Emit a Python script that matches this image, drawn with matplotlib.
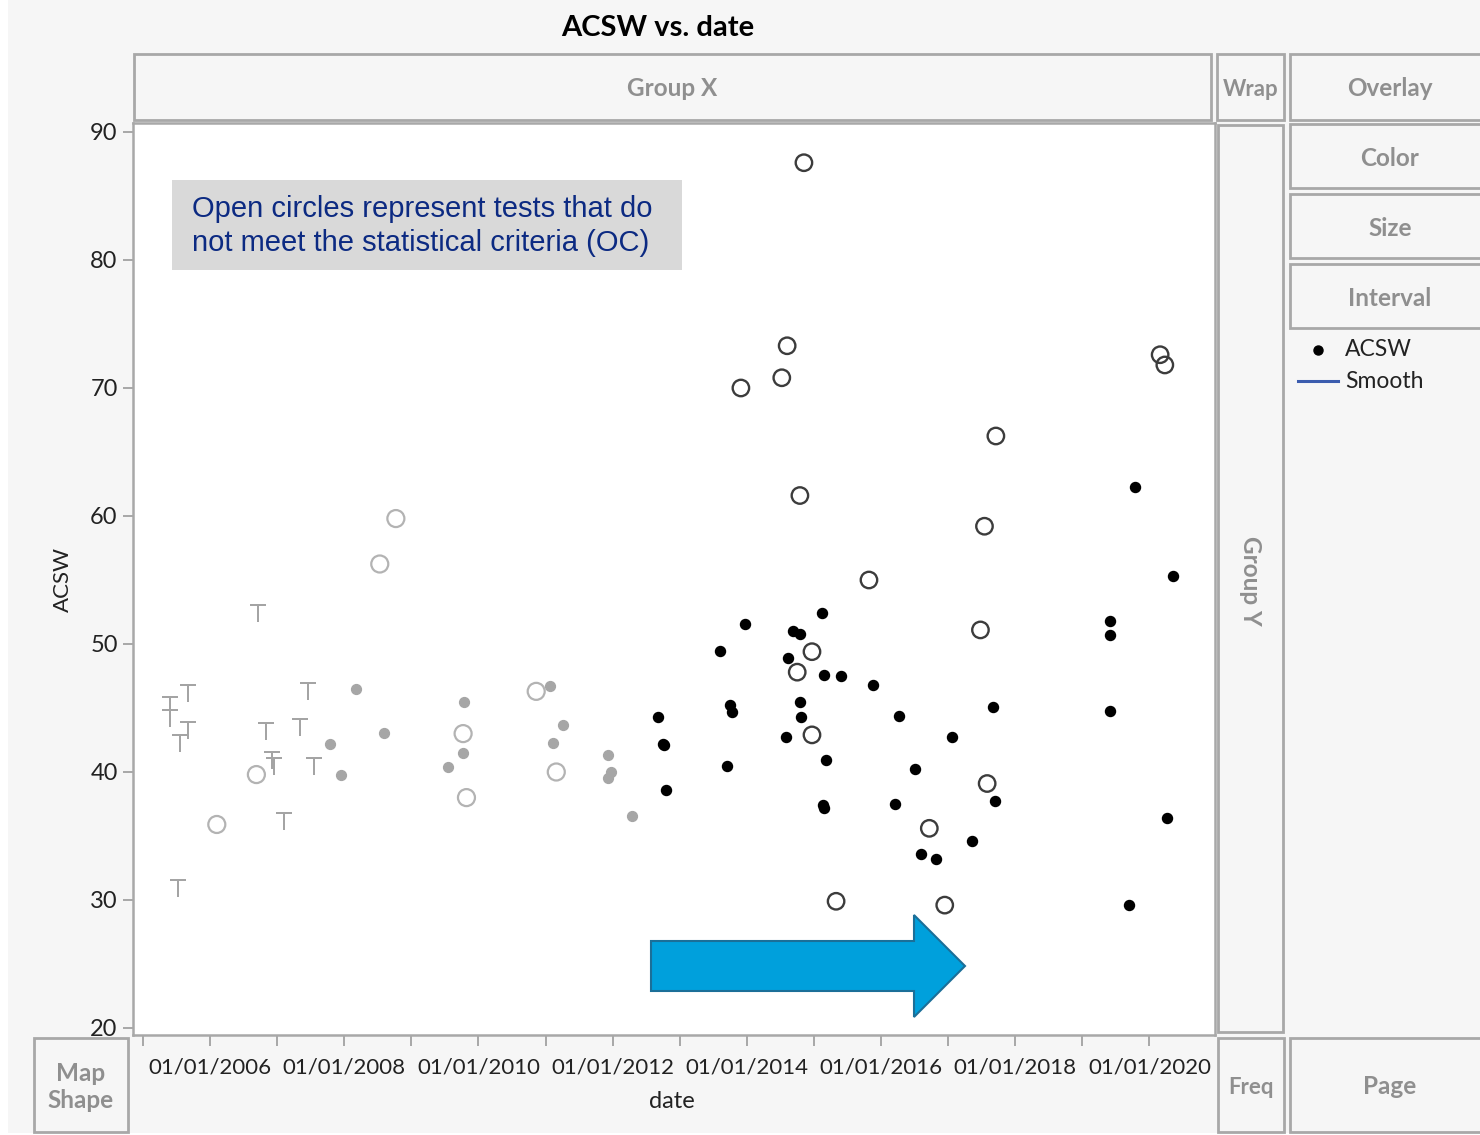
import numpy as np
import pandas as pd
import matplotlib
matplotlib.use("Agg")
import matplotlib.pyplot as plt
import matplotlib.dates as mdates
from matplotlib.patches import Rectangle, Polygon

# ---- data (decimal years, ACSW) ----
# early tests, drawn as "T"
t_years = [2005.67, 2005.40, 2005.40, 2005.67, 2005.55, 2006.72, 2007.46,
           2006.83, 2007.34, 2006.92, 2006.95, 2007.55, 2007.10, 2005.52]
t_vals = [46.2, 45.2, 44.2, 43.3, 42.3, 52.4, 46.3,
          43.2, 43.5, 40.9, 40.5, 40.5, 36.2, 30.9]

# early tests, greyed out - OC
go_years = [2006.10, 2006.69, 2008.53, 2008.77, 2009.77, 2009.82, 2010.86, 2011.16]
go_vals = [35.9, 39.8, 56.25, 59.8, 43.0, 38.0, 46.3, 40.0]

# early tests, greyed out - passing
gf_years = [2008.18, 2007.79, 2007.95, 2008.59, 2009.79, 2009.77, 2009.55,
            2011.07, 2011.26, 2011.11, 2011.93, 2011.98, 2011.93, 2012.29]
gf_vals = [46.5, 42.2, 39.8, 43.05, 45.5, 41.5, 40.4,
           46.7, 43.7, 42.3, 41.3, 40.0, 39.5, 36.6]

# recent tests - OC (open circles)
oc_years = [2014.85, 2014.60, 2013.91, 2014.52, 2014.79, 2015.82, 2014.97, 2014.75,
            2014.97, 2015.33, 2016.95, 2016.72, 2017.58, 2017.48, 2017.54, 2017.71,
            2020.16, 2020.23]
oc_vals = [87.6, 73.3, 70.0, 70.8, 61.6, 55.0, 49.4, 47.8,
           42.9, 29.9, 29.6, 35.6, 39.1, 51.1, 59.2, 66.25,
           72.6, 71.8]

# recent tests - passing
ok_years = [2012.68, 2012.75, 2012.76, 2012.80, 2013.60, 2013.70, 2013.75, 2013.78,
            2013.97, 2014.58, 2014.61, 2014.68, 2014.79, 2014.79, 2014.81, 2015.12,
            2015.15, 2015.40, 2015.18, 2015.14, 2015.15, 2015.88, 2016.27, 2016.21,
            2016.51, 2017.06, 2016.60, 2016.82, 2017.36, 2017.67, 2017.70, 2019.41,
            2019.41, 2019.41, 2019.79, 2019.70, 2020.35, 2020.26]
ok_vals = [44.3, 42.2, 42.1, 38.6, 49.45, 40.5, 45.2, 44.7,
           51.6, 42.7, 48.9, 51.0, 50.8, 45.5, 44.3, 52.4,
           47.6, 47.5, 40.9, 37.4, 37.2, 46.8, 44.4, 37.5,
           40.2, 42.7, 33.6, 33.2, 34.6, 45.1, 37.7, 51.8,
           50.7, 44.8, 62.3, 29.6, 55.3, 36.4]

y_ticks = [20, 30, 40, 50, 60, 70, 80, 90]


def to_dates(years):
    out = []
    for y in years:
        yr = int(y)
        out.append(pd.Timestamp(yr, 1, 1) + pd.Timedelta(days=(y - yr) * 365.25))
    return out


W, H = 1480, 1135
fig = plt.figure(figsize=(W / 100, H / 100), dpi=100, facecolor="white")

# background layer in pixel coords for the Graph Builder drop zones
bg = fig.add_axes([0, 0, 1, 1])
bg.set_xlim(0, W)
bg.set_ylim(H, 0)
bg.axis("off")
bg.add_patch(Rectangle((8, 0), W - 8, 1133, facecolor="#f6f6f6", edgecolor="none"))

zone_font = dict(family="Lato", fontweight="bold", color="#8f8f8f", fontsize=17.5)


def zone(x0, y0, x1, y1, label=None, rot=0, **kw):
    bg.add_patch(Rectangle((x0, y0), x1 - x0, y1 - y0, facecolor="#f6f6f6",
                           edgecolor="#a8a8a8", lw=2))
    if label:
        bg.text((x0 + x1) / 2, (y0 + y1) / 2 + 2, label, ha="center", va="center",
                rotation=rot, **{**zone_font, **kw})


zone(134, 54, 1211, 120, "Group X")
zone(1217, 54, 1284, 120, "Wrap", fontsize=16)
zone(1290, 54, 1490, 120, "Overlay")
zone(1290, 124, 1490, 188, "Color")
zone(1290, 194, 1490, 258, "Size")
zone(1290, 264, 1490, 328, "Interval")
zone(1218, 125, 1283, 1032, "Group Y", rot=-90)
zone(34, 1038, 128, 1132, "Map\nShape", linespacing=1.25)
zone(1218, 1038, 1284, 1132, "Freq", fontsize=16)
zone(1290, 1038, 1490, 1132, "Page")

bg.text(658, 28, "ACSW vs. date", ha="center", va="center", family="Lato",
        fontweight="bold", fontsize=21, color="black")
bg.text(672, 1101, "date", ha="center", va="center", family="Lato",
        fontsize=17, color="#222222")
bg.text(63, 580, "ACSW", ha="center", va="center", rotation=90, family="Lato",
        fontsize=16, color="#222222")

# legend
bg.plot([1318], [350], "o", color="black", ms=6.5)
bg.plot([1298, 1338], [381, 381], color="#3b5cae", lw=2.2)
bg.text(1345, 350, "ACSW", va="center", family="Lato", fontsize=16.5, color="#222222")
bg.text(1345, 381, "Smooth", va="center", family="Lato", fontsize=16.5, color="#222222")

# ---- main plot ----
ax = fig.add_axes([133 / W, 1 - 1035 / H, 1082 / W, 912 / H])
ax.set_facecolor("white")

ax.scatter(to_dates(t_years), t_vals, marker=r"$\mathsf{T}$", s=170,
           color="#a4a4a4", linewidths=0, zorder=3)
ax.scatter(to_dates(go_years), go_vals, s=150, facecolors="none",
           edgecolors="#b3b3b3", linewidths=1.6, zorder=3)
ax.scatter(to_dates(gf_years), gf_vals, s=50, color="#a6a6a6", zorder=3)
ax.scatter(to_dates(oc_years), oc_vals, s=140, facecolors="none",
           edgecolors="#3c3c3c", linewidths=1.7, zorder=4)
ax.scatter(to_dates(ok_years), ok_vals, s=52, color="black", zorder=4)

x0 = 2006 + (133 - 210) / 67.1
x1 = 2006 + (1215 - 210) / 67.1
ax.set_xlim(to_dates([x0])[0], to_dates([x1])[0])
ax.set_ylim(20 - 7 / 12.8, 90 + 9 / 12.8)

ax.xaxis.set_major_locator(mdates.YearLocator(2))
ax.xaxis.set_minor_locator(mdates.YearLocator(1))
ax.xaxis.set_major_formatter(mdates.DateFormatter("%m/%d/%Y"))
ax.set_yticks(y_ticks)

ax.tick_params(axis="x", which="both", direction="out", length=8, width=1.2,
               color="#9a9a9a", pad=8, labelsize=16, labelcolor="#222222")
ax.tick_params(axis="y", direction="out", length=7, width=1.2, color="#9a9a9a",
               pad=4, labelsize=17, labelcolor="#222222")
for lab in ax.get_xticklabels() + ax.get_yticklabels():
    lab.set_family("Lato")
for sp in ax.spines.values():
    sp.set_color("#a8a8a8")
    sp.set_linewidth(1.8)

# overlay layer on top of the plot for the note and the arrow
top = fig.add_axes([0, 0, 1, 1], facecolor="none")
top.set_xlim(0, W)
top.set_ylim(H, 0)
top.axis("off")

top.add_patch(Rectangle((172, 180), 510, 90, facecolor="#d9d9d9", edgecolor="none"))
top.text(192, 226, "Open circles represent tests that do\nnot meet the statistical criteria (OC)",
         va="center", ha="left", family="Liberation Sans", fontsize=21,
         color="#0c2a82", linespacing=1.3)

arrow = Polygon([(651, 941), (914, 941), (914, 915), (965, 966), (914, 1017),
                 (914, 991), (651, 991)], closed=True, facecolor="#00a0dc",
                edgecolor="#1b6f98", lw=1.5)
top.add_patch(arrow)

fig.savefig("out.png", dpi=100, facecolor="white")
